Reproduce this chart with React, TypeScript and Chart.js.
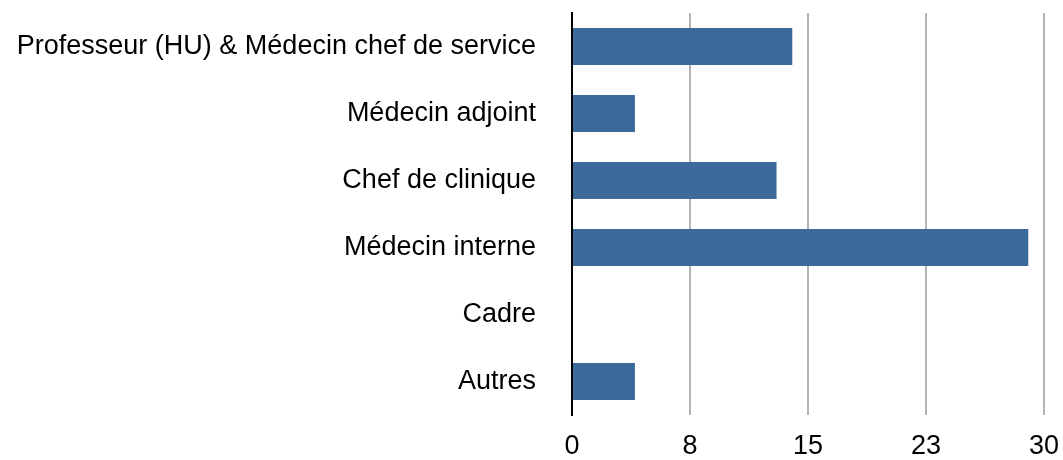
import React, { useEffect, useRef } from "react";
import { Chart, registerables } from "chart.js";

Chart.register(...registerables);

const categories = [
  "Professeur (HU) & Médecin chef de service",
  "Médecin adjoint",
  "Chef de clinique",
  "Médecin interne",
  "Cadre",
  "Autres",
];
const values = [14, 4, 13, 29, 0, 4];
const xMin = 0;
const xMax = 30;
const xStep = 7.5;

export default function App() {
  const ref = useRef<HTMLCanvasElement | null>(null);
  useEffect(() => {
    if (!ref.current) return;
    const font = { family: "'Liberation Sans', Arial, Helvetica, sans-serif", size: 27 };
    const chart = new Chart(ref.current, {
      type: "bar",
      data: {
        labels: categories,
        datasets: [
          {
            data: values,
            backgroundColor: "#3c6b9b",
            borderWidth: 0,
            barPercentage: 0.55,
            categoryPercentage: 1,
          },
        ],
      },
      options: {
        indexAxis: "y",
        responsive: false,
        animation: false,
        maintainAspectRatio: false,
        layout: { padding: { top: 13, right: 19, left: 0, bottom: 0 } },
        plugins: { legend: { display: false }, tooltip: { enabled: false } },
        scales: {
          x: {
            min: xMin,
            max: xMax,
            ticks: {
              stepSize: xStep,
              color: "#000",
              font,
              padding: 15,
              maxRotation: 0,
              autoSkip: false,
              callback: (v: any) => String(Math.round(Number(v))),
            },
            grid: { color: "#b3b3b3", lineWidth: 2, drawTicks: false },
            border: { display: false },
            afterFit: (s: any) => {
              s.height = 45;
              s.paddingLeft = 0;
              s.paddingRight = 0;
            },
          },
          y: {
            ticks: { color: "#000", font, padding: 36, autoSkip: false },
            grid: { display: false, drawTicks: false },
            border: { display: true, color: "#000", width: 2 },
            afterFit: (s: any) => {
              s.width = 572;
              s.paddingTop = 0;
              s.paddingBottom = 0;
            },
          },
        },
      },
    });
    return () => chart.destroy();
  }, []);
  return (
    <div style={{ position: "absolute", left: 0, top: 0, width: 1063, height: 460 }}>
      <canvas ref={ref} width={1063} height={460} style={{ width: 1063, height: 460 }} />
    </div>
  );
}
